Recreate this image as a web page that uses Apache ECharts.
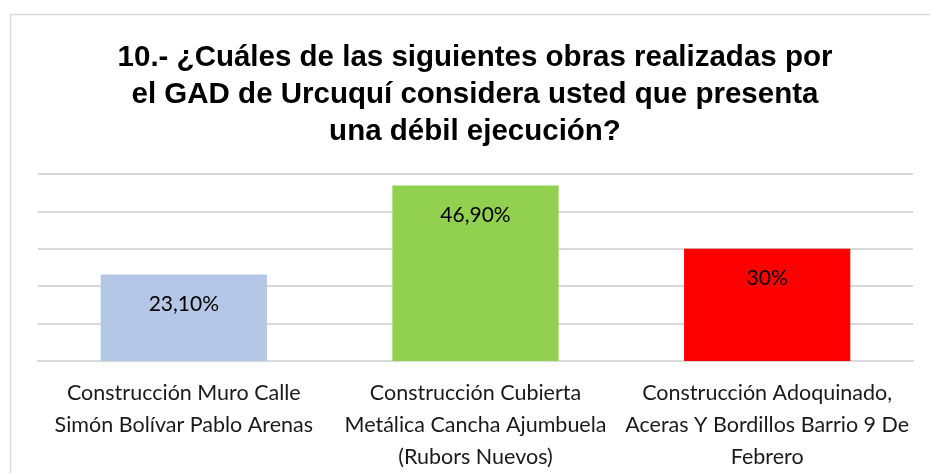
<!DOCTYPE html>
<html><head><meta charset="utf-8">
<script src="https://cdn.jsdelivr.net/npm/echarts@6/dist/echarts.min.js"></script>
<style>html,body{margin:0;padding:0;background:#fff}#c{width:930px;height:473px}</style>
</head><body><div id="c"></div>
<script>
const titleText = '10.- ¿Cuáles de las siguientes obras realizadas por\nel GAD de Urcuquí considera usted que presenta\nuna débil ejecución?';
const categories = [
  'Construcción Muro Calle\nSimón Bolívar Pablo Arenas',
  'Construcción Cubierta\nMetálica Cancha Ajumbuela\n(Rubors Nuevos)',
  'Construcción Adoquinado,\nAceras Y Bordillos Barrio 9 De\nFebrero'
];
const values = [23.1, 46.9, 30];
const valueLabels = ['23,10%', '46,90%', '30%'];
const barColors = ['#b4c7e7', '#92d050', '#ff0000'];

const chart = echarts.init(document.getElementById('c'), null, {renderer: 'canvas'});
chart.setOption({
  animation: false,
  backgroundColor: '#fff',
  graphic: [{
    type: 'rect', left: 8, top: 12, shape: {width: 940, height: 480},
    style: {fill: 'none', stroke: '#d9d9d9', lineWidth: 1.5}, silent: true
  }],
  title: {
    text: titleText, left: 470, textAlign: 'center', top: 34,
    textStyle: {fontFamily: 'Liberation Sans', fontWeight: 'bold', fontSize: 29.5, lineHeight: 37, color: '#000'}
  },
  grid: {left: 38, right: 17, top: 174, bottom: 110},
  xAxis: {
    type: 'category', data: categories,
    axisLine: {lineStyle: {color: '#d9d9d9', width: 2}},
    axisTick: {show: false},
    axisLabel: {fontFamily: 'Lato', fontSize: 21.5, lineHeight: 32, color: '#1a1a1a', margin: 16, interval: 0}
  },
  yAxis: {
    type: 'value', min: 0, max: 50, interval: 10,
    axisLabel: {show: false}, axisLine: {show: false}, axisTick: {show: false},
    splitLine: {lineStyle: {color: '#d9d9d9', width: 2}}
  },
  series: [{
    type: 'bar', barWidth: '57%',
    data: values.map((v, i) => ({value: v, itemStyle: {color: barColors[i]}})),
    label: {
      show: true, position: 'insideTop', distance: 19,
      fontFamily: 'Lato', fontSize: 21, color: '#000',
      formatter: p => valueLabels[p.dataIndex]
    }
  }]
});
</script></body></html>
